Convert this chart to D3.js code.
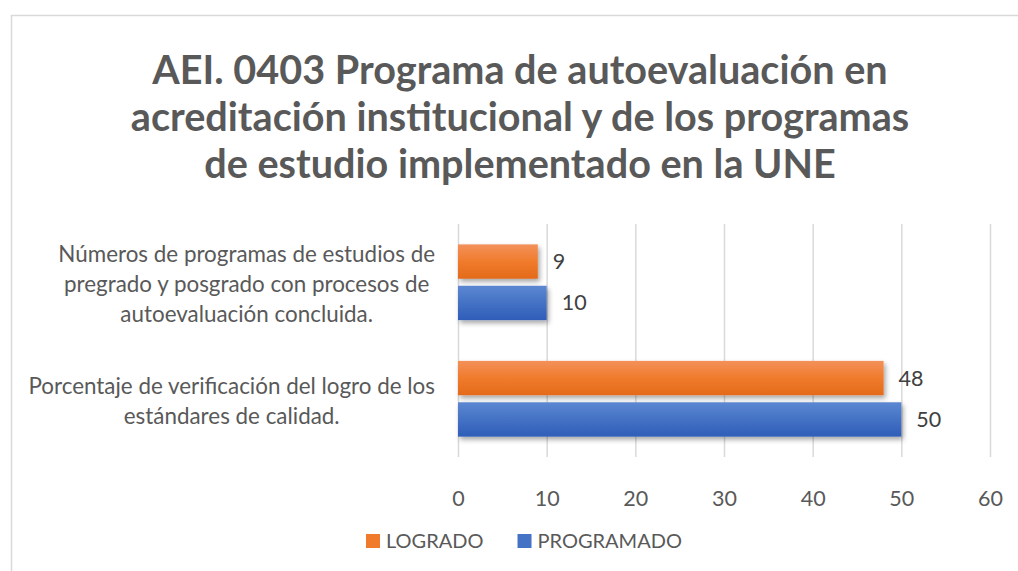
<!DOCTYPE html>
<html>
<head>
<meta charset="utf-8">
<script src="https://cdn.jsdelivr.net/npm/d3@7"></script>
<style>
	body { margin: 0; background: #fff; }
	text { font-family: Lato, "Open Sans", sans-serif; }
</style>
</head>
<body>
<div id="chart"></div>
<script>
// Data
const titleLines = [
	"AEI. 0403 Programa de autoevaluación en",
	"acreditación institucional y de los programas",
	"de estudio implementado en la UNE"
];
const categories = [
	["Números de programas de estudios de", "pregrado y posgrado con procesos de", "autoevaluación concluida."],
	["Porcentaje de verificación del logro de los", "estándares de calidad."]
];
const seriesNames = ["LOGRADO", "PROGRAMADO"];
const logrado = [9, 48];
const programado = [10, 50];
const xTicks = [0, 10, 20, 30, 40, 50, 60];

const width = 1018, height = 571;
const margin = { top: 224, right: 28, bottom: 114, left: 458 };

const svg = d3.select("#chart")
	.append("svg")
	.attr("width", width)
	.attr("height", height)
	.attr("viewBox", [0, 0, width, height]);

// gradients + shadow, Excel style
const defs = svg.append("defs");
const grads = [
	{ id: "gOrange", stops: ["#F3915A", "#F07B2C", "#E36A19"] },
	{ id: "gBlue", stops: ["#5D87D2", "#4472C4", "#2F5DB9"] }
];
grads.forEach(g => {
	const lg = defs.append("linearGradient")
		.attr("id", g.id)
		.attr("x1", 0).attr("y1", 0).attr("x2", 0).attr("y2", 1);
	g.stops.forEach((c, i) => lg.append("stop")
		.attr("offset", i / (g.stops.length - 1))
		.attr("stop-color", c));
});
const filt = defs.append("filter").attr("id", "shadow")
	.attr("x", "-5%").attr("y", "-20%").attr("width", "115%").attr("height", "160%");
filt.append("feDropShadow")
	.attr("dx", 2).attr("dy", 3).attr("stdDeviation", 2.5)
	.attr("flood-color", "#000").attr("flood-opacity", 0.35);

// chart border
svg.append("rect")
	.attr("x", 11.5).attr("y", 15.5)
	.attr("width", 1100).attr("height", 700)
	.attr("fill", "none")
	.attr("stroke", "#D9D9D9")
	.attr("stroke-width", 1.5);

// title
svg.append("g")
	.selectAll("text")
	.data(titleLines)
	.join("text")
	.attr("x", 520)
	.attr("y", (d, i) => 84 + i * 47)
	.attr("text-anchor", "middle")
	.attr("font-size", 39.6)
	.attr("font-weight", "bold")
	.attr("fill", "#595959")
	.text(d => d);

let x = d3.scaleLinear()
	.domain([0, 60])
	.range([margin.left, width - margin.right]);

let y = d3.scaleBand()
	.domain(d3.range(categories.length))
	.range([margin.top, height - margin.bottom])
	.paddingInner(0.35)
	.paddingOuter(0.175);

let ys = d3.scaleBand()
	.domain(seriesNames)
	.range([0, y.bandwidth()])
	.paddingInner(0.17);

// gridlines
let xAxis = g => g
	.attr("transform", `translate(0,${height - margin.bottom})`)
	.call(d3.axisBottom(x).tickValues(xTicks).tickSize(0).tickPadding(34))
	.call(g => g.select(".domain").remove())
	.call(g => g.selectAll(".tick text")
		.attr("font-size", 21.5)
		.attr("font-family", "Lato, sans-serif")
		.attr("fill", "#595959"))
	.call(g => g.selectAll(".tick line").clone()
		.attr("y2", -(height - margin.bottom - margin.top))
		.attr("stroke", "#D9D9D9")
		.attr("stroke-width", 1.5));

svg.append("g").call(xAxis);

// bars
const series = [
	{ name: seriesNames[0], values: logrado, fill: "url(#gOrange)" },
	{ name: seriesNames[1], values: programado, fill: "url(#gBlue)" }
];

const barsg = svg.append("g");
series.forEach(s => {
	barsg.append("g")
		.selectAll("rect")
		.data(s.values)
		.join("rect")
		.attr("x", x(0))
		.attr("y", (d, i) => y(i) + ys(s.name))
		.attr("width", d => x(d) - x(0))
		.attr("height", ys.bandwidth())
		.attr("fill", s.fill)
		.attr("filter", "url(#shadow)");

	barsg.append("g")
		.selectAll("text")
		.data(s.values)
		.join("text")
		.attr("x", d => x(d) + 15)
		.attr("y", (d, i) => y(i) + ys(s.name) + ys.bandwidth() / 2)
		.attr("dy", "0.35em")
		.attr("font-size", 21.5)
		.attr("fill", "#404040")
		.text(d => d);
});

// category labels: block right-aligned, lines centred inside the block
const labelRight = 435;
const labelg = svg.append("g");
categories.forEach((lines, i) => {
	const g = labelg.append("g");
	const t = g.selectAll("text")
		.data(lines)
		.join("text")
		.attr("font-size", 22.4)
		.attr("fill", "#595959")
		.attr("text-anchor", "middle")
		.text(d => d);
	const maxW = d3.max(t.nodes(), n => n.getComputedTextLength());
	const lh = 30;
	const cy = y(i) + y.bandwidth() / 2 + 2;
	t.attr("x", labelRight - maxW / 2)
		.attr("y", (d, j) => cy + (j - (lines.length - 1) / 2) * lh)
		.attr("dy", "0.35em");
});

// legend
const legend = svg.append("g").attr("transform", "translate(366,541)");
let lx = 0;
series.forEach((s, i) => {
	const item = legend.append("g").attr("transform", `translate(${lx},0)`);
	item.append("rect")
		.attr("x", 0).attr("y", -7)
		.attr("width", 14).attr("height", 14)
		.attr("fill", i === 0 ? "#F07B2C" : "#4472C4");
	const t = item.append("text")
		.attr("x", 20)
		.attr("dy", "0.35em")
		.attr("font-size", 20)
		.attr("fill", "#595959")
		.text(s.name);
	lx += 20 + t.node().getComputedTextLength() + 34;
});
</script>
</body>
</html>
